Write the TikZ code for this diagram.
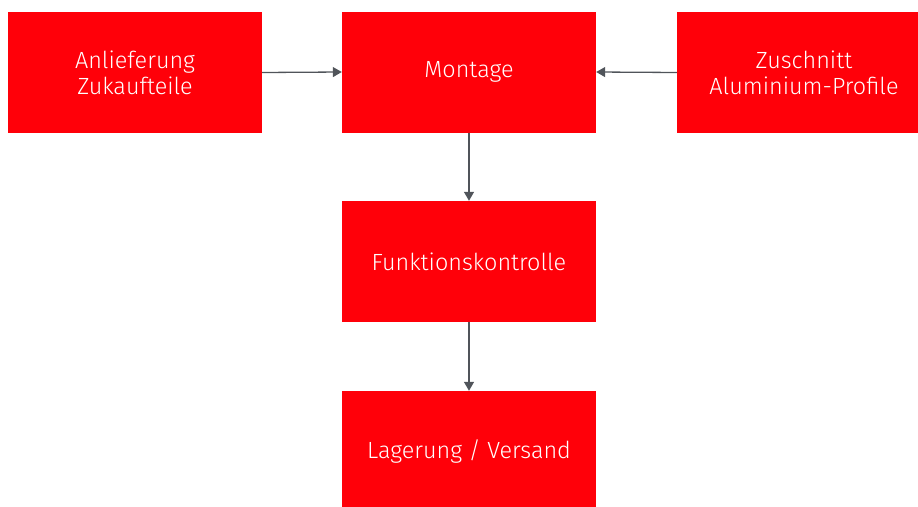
\documentclass[tikz,border=0pt]{standalone}
\usepackage{fontspec}
\setmainfont{Fira Sans}[UprightFont=* Light]
\usetikzlibrary{arrows.meta}
\definecolor{boxred}{HTML}{FF0009}
\definecolor{arrowgray}{HTML}{50545A}
\tikzset{
  procbox/.style={fill=boxred, draw=none, minimum width=254pt, minimum height=121pt,
    inner sep=0pt, text=white, align=center, font=\fontsize{23.4}{26}\selectfont},
  flowarrow/.style={draw=arrowgray, line width=1.3pt, -{Triangle[length=9pt,width=10pt]}}
}
\begin{document}
\begin{tikzpicture}[x=1pt,y=-1pt]
\useasboundingbox (0,0) rectangle (918,506);
\begin{scope}
\clip (0,0) rectangle (918,506);
\node[procbox] (A) at (135,72.5) {Anlieferung\\Zukaufteile};
\node[procbox] (M) at (469,72) {Montage};
\node[procbox] (Z) at (804,72.5) {Zuschnitt\\Aluminium-Profile};
\node[procbox] (F) at (469,261.5) {Funktionskontrolle};
\node[procbox] (L) at (469,451.5) {Lagerung / Versand};
\draw[flowarrow] (A.east) -- (M.west);
\draw[flowarrow] (Z.west) -- (M.east);
\draw[flowarrow] (M.south) -- (F.north);
\draw[flowarrow] (F.south) -- (L.north);
\end{scope}
\end{tikzpicture}
\end{document}
